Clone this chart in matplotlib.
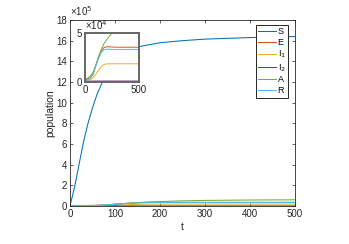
import numpy as np
import matplotlib
matplotlib.use("Agg")
import matplotlib.pyplot as plt

plt.rcParams['font.family'] = ['Liberation Sans', 'DejaVu Sans']

# Data
t = [0, 10, 20, 30, 40, 50, 60, 80, 100, 125, 150, 200, 250, 300, 400, 500]
S = [0, 1.8, 4.0, 6.2, 8.0, 9.5, 10.8, 12.8, 14.0, 14.9, 15.4, 15.8, 16.0, 16.15, 16.3, 16.4]  # x1e5

t2 = [0, 25, 50, 75, 100, 125, 150, 175, 200, 250, 300, 400, 500]
E = [0.2, 0.3, 0.45, 0.8, 1.7, 2.5, 3.1, 3.5, 3.6, 3.57, 3.55, 3.55, 3.55]   # x1e4
I1 = [0.1, 0.15, 0.25, 0.45, 0.8, 1.2, 1.55, 1.78, 1.85, 1.86, 1.86, 1.86, 1.86]
I2 = [0.05, 0.07, 0.09, 0.1, 0.1, 0.1, 0.1, 0.1, 0.1, 0.1, 0.1, 0.1, 0.1]
A = [0.3, 0.4, 0.6, 1.0, 1.7, 2.6, 3.3, 3.9, 4.3, 5.0, 5.4, 5.8, 6.0]
R = [0.1, 0.2, 0.4, 0.75, 1.6, 2.4, 3.0, 3.3, 3.35, 3.33, 3.32, 3.32, 3.32]

labels = ["S", "E", "I$_1$", "I$_2$", "A", "R"]
colors = ["#0072BD", "#D95319", "#EDB120", "#7E2F8E", "#77AC30", "#4DBEEE"]

small = [E, I1, I2, A, R]

fig = plt.figure(figsize=(3.49, 2.44), dpi=100)
W, H = 349, 244

def pix_axes(x0, y0, x1, y1):
    return fig.add_axes([x0 / W, 1 - y1 / H, (x1 - x0) / W, (y1 - y0) / H])

ax = pix_axes(70, 20, 295, 206)
axc = "#262626"
lines = []
lines += ax.plot(t, np.array(S) * 1e5, color=colors[0], lw=0.75)
for vals, c in zip(small, colors[1:]):
    lines += ax.plot(t2, np.array(vals) * 1e4, color=c, lw=0.75)
ax.set_xlim(0, 500)
ax.set_ylim(0, 18e5)
ax.set_xticks(range(0, 501, 100))
ax.set_yticks(np.arange(0, 19, 2) * 1e5)
ax.set_yticklabels([str(v) for v in range(0, 19, 2)])
ax.tick_params(direction="in", length=2.5, width=0.5, labelsize=7, colors=axc,
               top=True, right=True, pad=2)
for sp in ax.spines.values():
    sp.set_color(axc)
    sp.set_linewidth(0.6)
ax.set_xlabel("t", fontsize=7.5, color=axc, labelpad=2)
ax.set_ylabel("population", fontsize=7.5, color=axc, labelpad=1)
ax.text(0.0, 1.01, "×10$^5$", transform=ax.transAxes, fontsize=7, color=axc,
        ha="left", va="bottom")

leg = ax.legend(lines, labels, loc="upper right", bbox_to_anchor=(288 / W, 1 - 25 / H),
                bbox_transform=fig.transFigure, fontsize=6.5, handlelength=2.0,
                handletextpad=0.2, labelspacing=0.2, borderpad=0.25,
                borderaxespad=0, fancybox=False, framealpha=1)
leg.get_frame().set_edgecolor(axc)
leg.get_frame().set_linewidth(0.7)

# inset
ins = pix_axes(85, 33, 139, 82)
for vals, c in zip(small, colors[1:]):
    ins.plot(t2, np.array(vals) * 1e4, color=c, lw=0.7)
ins.set_xlim(0, 500)
ins.set_ylim(0, 5e4)
ins.set_xticks([0, 500])
ins.set_yticks([0, 5e4])
ins.set_yticklabels(["0", "5"])
ins.tick_params(direction="in", length=2, width=0.5, labelsize=7, colors=axc,
                top=True, right=True, pad=2)
for sp in ins.spines.values():
    sp.set_color("#666666")
    sp.set_linewidth(1.4)
ins.text(0.0, 1.02, "×10$^4$", transform=ins.transAxes, fontsize=7, color=axc,
         ha="left", va="bottom")

fig.savefig("out.png", dpi=100)
